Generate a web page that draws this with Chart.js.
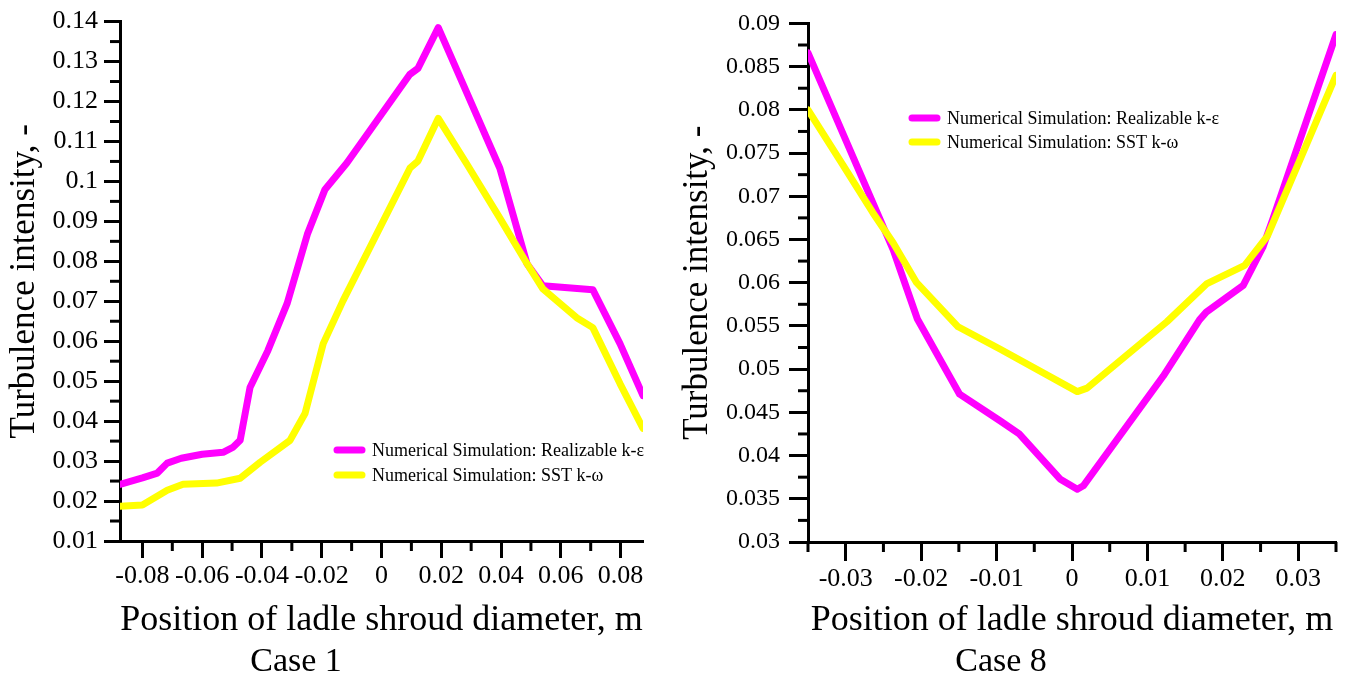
<!DOCTYPE html>
<html>
<head>
<meta charset="utf-8">
<script src="https://cdn.jsdelivr.net/npm/chart.js"></script>
<style>
    body { margin: 0; background: #fff; width: 1346px; height: 675px; overflow: hidden; position: relative; }
    canvas { position: absolute; top: 0; }
</style>
</head>
<body>
<canvas id="case1" width="660" height="675" style="left:0;width:660px;height:675px"></canvas>
<canvas id="case8" width="686" height="675" style="left:660px;width:686px;height:675px"></canvas>
<script>
// --- Datos ---
const seriesLabels = ["Numerical Simulation: Realizable k-ε", "Numerical Simulation: SST k-ω"];
const caseLabels = ["Case 1", "Case 8"];

// Case 1
const case1RealizableX = [-0.0875, -0.080, -0.075, -0.0717, -0.067, -0.060, -0.053, -0.0496, -0.0473, -0.044, -0.038, -0.0316, -0.0248, -0.0189, -0.0116, 0.0095, 0.0122, 0.019, 0.0396, 0.0487, 0.054, 0.0707, 0.0798, 0.0875];
const case1RealizableY = [0.0242, 0.0258, 0.027, 0.0295, 0.0307, 0.0317, 0.0322, 0.0335, 0.0352, 0.0484, 0.0577, 0.0694, 0.0868, 0.098, 0.1046, 0.1268, 0.1283, 0.1385, 0.1033, 0.0794, 0.0739, 0.0729, 0.0594, 0.0464];
const case1SstX = [-0.0875, -0.080, -0.0717, -0.0664, -0.0552, -0.0473, -0.0406, -0.0306, -0.0256, -0.0195, -0.0129, 0.0095, 0.0122, 0.019, 0.0286, 0.0396, 0.0487, 0.054, 0.0653, 0.0707, 0.0798, 0.0875];
const case1SstY = [0.0187, 0.019, 0.0227, 0.0242, 0.0245, 0.0257, 0.0297, 0.0352, 0.0419, 0.0594, 0.0701, 0.1033, 0.1051, 0.1158, 0.1043, 0.0908, 0.0794, 0.0731, 0.0659, 0.0634, 0.0494, 0.0382];
const case1XTicks = [-0.08, -0.06, -0.04, -0.02, 0, 0.02, 0.04, 0.06, 0.08];
const case1YTicks = [0.01, 0.02, 0.03, 0.04, 0.05, 0.06, 0.07, 0.08, 0.09, 0.1, 0.11, 0.12, 0.13, 0.14];

// Case 8
const case8RealizableX = [-0.035, -0.0237, -0.0219, -0.0205, -0.0149, -0.0095, -0.007, -0.0016, 0.0007, 0.0015, 0.0121, 0.0169, 0.0178, 0.0227, 0.0253, 0.0266, 0.035];
const case8RealizableY = [0.0866, 0.0638, 0.0593, 0.0558, 0.0471, 0.044, 0.0425, 0.0373, 0.0361, 0.0365, 0.0492, 0.0557, 0.0566, 0.0597, 0.0641, 0.0673, 0.0887];
const case8SstX = [-0.035, -0.0308, -0.0264, -0.0237, -0.0206, -0.0151, -0.0095, 0.0007, 0.002, 0.0126, 0.0179, 0.0229, 0.0259, 0.035];
const case8SstY = [0.080, 0.0742, 0.0681, 0.0646, 0.060, 0.0549, 0.0523, 0.0474, 0.0478, 0.0555, 0.0599, 0.062, 0.0654, 0.084];
const case8XTicks = [-0.03, -0.02, -0.01, 0, 0.01, 0.02, 0.03];
const case8YTicks = [0.03, 0.035, 0.04, 0.045, 0.05, 0.055, 0.06, 0.065, 0.07, 0.075, 0.08, 0.085, 0.09];

const SERIF = "'Liberation Serif', 'Times New Roman', serif";
const colores = ["#ff00ff", "#ffff00"];

function fmt(v) { return String(+(+v).toFixed(4)); }

// --- Marcas menores de los ejes ---
const minorTicks = {
    id: "minorTicks",
    afterDraw(chart, args, opts) {
        const ctx = chart.ctx;
        ctx.save();
        ctx.strokeStyle = "#000";
        ctx.lineWidth = 3;
        ["x", "y"].forEach(id => {
            const s = chart.scales[id];
            const m = opts[id];
            const n0 = Math.ceil(s.min / m.step - 1e-6);
            const n1 = Math.floor(s.max / m.step + 1e-6);
            for (let n = n0; n <= n1; n++) {
                if (n % 2 === 0) continue;
                const p = s.getPixelForValue(n * m.step);
                ctx.beginPath();
                if (id === "x") { ctx.moveTo(p, s.top); ctx.lineTo(p, s.top + m.len); }
                else { ctx.moveTo(s.right, p); ctx.lineTo(s.right - m.len, p); }
                ctx.stroke();
            }
        });
        ctx.restore();
    }
};

// --- Leyenda y rótulo "Case" ---
const decor = {
    id: "decor",
    afterDraw(chart, args, opts) {
        const ctx = chart.ctx;
        ctx.save();
        ctx.fillStyle = "#000";
        ctx.font = opts.legendSize + "px " + SERIF;
        ctx.textBaseline = "middle";
        ctx.textAlign = "left";
        chart.data.datasets.forEach((ds, i) => {
            const y = opts.legendY + i * opts.legendGap;
            ctx.strokeStyle = ds.borderColor;
            ctx.lineWidth = 7;
            ctx.lineCap = "round";
            ctx.beginPath();
            ctx.moveTo(opts.legendX, y);
            ctx.lineTo(opts.legendX + 25, y);
            ctx.stroke();
            ctx.fillText(ds.label, opts.legendX + 35, y + 1);
        });
        ctx.font = "34px " + SERIF;
        ctx.textAlign = "center";
        ctx.textBaseline = "alphabetic";
        ctx.fillText(opts.caseText, opts.caseX, 671);
        ctx.restore();
    }
};

function crearGrafico(id, o) {
    const datasets = o.series.map((s, i) => ({
        label: seriesLabels[i],
        data: s.x.map((v, k) => ({ x: v, y: s.y[k] })),
        borderColor: colores[i],
        backgroundColor: colores[i],
        borderWidth: 7,
        showLine: true,
        pointRadius: 0,
        tension: 0,
        borderCapStyle: "round",
        borderJoinStyle: "round",
        fill: false,
        order: i === 0 ? 1 : 0 // amarillo encima
    }));
    return new Chart(document.getElementById(id), {
        type: "scatter",
        data: { datasets: datasets },
        options: {
            responsive: false,
            animation: false,
            layout: { padding: o.padding },
            plugins: {
                legend: { display: false },
                tooltip: { enabled: false },
                minorTicks: o.minor,
                decor: o.decor
            },
            scales: {
                x: {
                    type: "linear",
                    min: o.xMin, max: o.xMax,
                    afterFit: s => { s.height = o.xHeight; },
                    afterBuildTicks: s => { s.ticks = o.xTicks.map(v => ({ value: v })); },
                    border: { color: "#000", width: 3 },
                    grid: { drawOnChartArea: false, tickLength: o.xTickLen, tickWidth: 3, tickColor: "#000" },
                    ticks: { autoSkip: false, maxRotation: 0, padding: 3, color: "#000", font: { family: SERIF, size: 26 }, callback: fmt },
                    title: { display: true, text: "Position of ladle shroud diameter, m", color: "#000", font: { family: SERIF, size: 36 }, padding: { top: 0, bottom: 33 } }
                },
                y: {
                    type: "linear",
                    min: o.yMin, max: o.yMax,
                    afterFit: s => { s.width = o.yWidth; },
                    afterBuildTicks: s => { s.ticks = o.yTicks.map(v => ({ value: v })); },
                    border: { color: "#000", width: 3 },
                    grid: { drawOnChartArea: false, tickLength: o.yTickLen, tickWidth: 3, tickColor: "#000" },
                    ticks: { autoSkip: false, padding: o.yPad, color: "#000", font: { family: SERIF, size: o.yFont }, callback: fmt },
                    title: { display: true, text: "Turbulence intensity, -", color: "#000", font: { family: SERIF, size: 35 }, padding: { top: o.yTitlePad, bottom: 0 } }
                }
            }
        },
        plugins: [minorTicks, decor]
    });
}

crearGrafico("case1", {
    series: [{ x: case1RealizableX, y: case1RealizableY }, { x: case1SstX, y: case1SstY }],
    xMin: -0.0875, xMax: 0.0875, yMin: 0.01, yMax: 0.14,
    xTicks: case1XTicks, yTicks: case1YTicks,
    padding: { left: 0, right: 17, top: 20, bottom: 0 },
    xHeight: 134, yWidth: 120,
    xTickLen: 17, yTickLen: 16, yPad: 6, yFont: 26, yTitlePad: 4,
    minor: { x: { step: 0.01, len: 10 }, y: { step: 0.005, len: 10 } },
    decor: { legendX: 337, legendY: 450, legendGap: 25, legendSize: 18, caseText: caseLabels[0], caseX: 296 }
});

crearGrafico("case8", {
    series: [{ x: case8RealizableX, y: case8RealizableY }, { x: case8SstX, y: case8SstY }],
    xMin: -0.035, xMax: 0.035, yMin: 0.03, yMax: 0.09,
    xTicks: case8XTicks, yTicks: case8YTicks,
    padding: { left: 0, right: 10, top: 19, bottom: 0 },
    xHeight: 133, yWidth: 148,
    xTickLen: 19, yTickLen: 19, yPad: 9, yFont: 24, yTitlePad: 17,
    minor: { x: { step: 0.005, len: 10 }, y: { step: 0.0025, len: 10 } },
    decor: { legendX: 252, legendY: 118, legendGap: 24, legendSize: 18, caseText: caseLabels[1], caseX: 341 }
});
</script>
</body>
</html>
